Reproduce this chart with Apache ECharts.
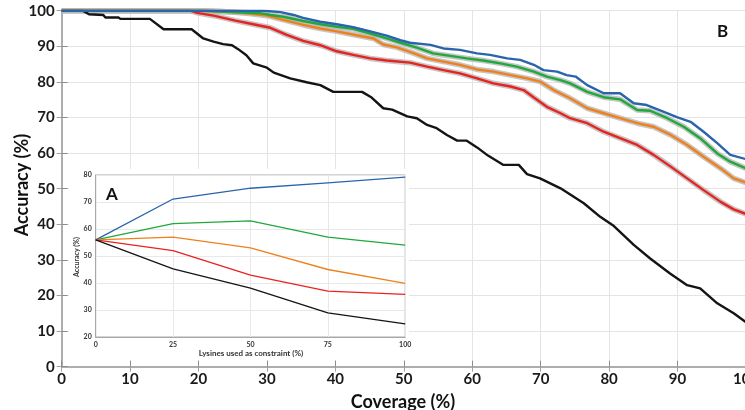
<!DOCTYPE html>
<html><head><meta charset="utf-8">
<script src="https://cdn.jsdelivr.net/npm/echarts@6/dist/echarts.min.js"></script>
<style>html,body{margin:0;padding:0;background:#fff}#c{width:745px;height:410px}</style>
</head><body><div id="c"></div>
<script>
// ---- Panel B (main): [coverage %, accuracy %]
const curveBlack = [[0,100],[3.1,100],[4.0,99.0],[6.1,98.8],[6.4,98.1],[8.3,98.1],[8.6,97.7],[12.9,97.7],[14.9,94.8],[19.0,94.8],[20.7,92.2],[22.2,91.3],[23.6,90.6],[24.9,90.3],[25.8,89.2],[27.0,87.5],[28.0,85.2],[30.0,84.0],[31.0,82.6],[33.4,81.0],[35.8,79.9],[37.8,79.1],[39.7,77.2],[43.9,77.2],[45.3,75.6],[47.0,72.6],[48.3,72.2],[50.5,70.3],[51.9,69.8],[53.4,67.9],[54.8,67.0],[56.3,65.1],[57.8,63.5],[59.2,63.5],[60.7,61.6],[62.3,59.3],[64.5,56.7],[66.8,56.7],[68.0,54.1],[69.9,52.9],[72.9,50.1],[76.3,45.9],[78.7,42.1],[80.7,39.5],[83.6,34.2],[86.0,30.4],[88.9,26.2],[91.4,22.9],[93.3,22.0],[95.8,17.8],[98.2,15.0],[100,12.5]];
const curveRed = [[0,100],[18.8,100],[19.8,99.4],[22.2,98.6],[25.4,97.2],[28.0,96.2],[30.5,95.2],[32.9,93.2],[35.3,91.5],[37.8,90.3],[40.2,88.6],[42.6,87.6],[45.1,86.6],[47.5,86.0],[50.9,85.4],[53.4,84.3],[55.8,83.3],[58.2,82.4],[60.7,81.0],[63.1,79.6],[65.6,78.7],[67.5,77.7],[69.0,75.6],[70.9,73.0],[72.9,71.2],[74.3,69.8],[76.8,68.4],[79.2,66.0],[81.6,64.2],[84.1,62.3],[86.5,59.5],[89.0,56.2],[91.4,52.9],[93.8,49.6],[96.3,46.3],[98.2,44.2],[100,42.9]];
const curveOrange = [[0,100],[21,100],[24.1,99.7],[27.1,99.3],[30.0,98.6],[32.4,97.4],[35.3,96.0],[37.8,95.0],[40.2,94.2],[43.1,93.1],[45.6,92.2],[47.0,90.5],[49.0,89.7],[51.4,88.1],[53.4,86.6],[55.8,85.7],[58.2,84.8],[60.7,83.5],[63.1,82.9],[65.6,81.9],[68.0,81.0],[69.9,80.1],[71.9,77.7],[74.3,75.4],[76.8,72.6],[79.2,71.2],[81.6,69.8],[84.1,68.4],[86.5,67.4],[89.0,65.1],[91.4,62.3],[93.8,59.0],[96.3,55.7],[98.2,52.9],[100,51.7]];
const curveGreen = [[0,100],[20.5,100],[24,99.7],[29.0,99.3],[30.5,98.8],[32.4,98.3],[35.3,97.1],[37.8,96.2],[40.2,95.5],[42.6,94.9],[45.1,93.6],[47.5,92.2],[49.5,91.0],[51.9,89.6],[54.3,88.0],[56.8,87.3],[59.2,86.6],[61.6,86.0],[64.1,85.2],[66.5,84.3],[69.0,82.9],[70.9,81.5],[72.9,80.5],[74.3,79.6],[76.8,77.2],[79.2,75.7],[81.6,75.1],[84.1,72.1],[86.0,71.9],[88.5,69.8],[90.9,67.4],[93.3,64.2],[95.8,59.9],[97.7,57.6],[100,55.7]];
const curveBlue = [[0,100],[29.5,100],[32,99.6],[33.9,98.8],[35.3,98.0],[37.8,96.9],[40.2,96.2],[42.6,95.4],[45.1,94.2],[47.5,93.0],[49.5,91.7],[50.9,91.0],[53.9,90.4],[55.8,89.4],[58.2,89.0],[60.7,88.0],[62.6,87.6],[65.1,86.6],[67.0,86.2],[69.0,84.8],[70.4,83.3],[72.4,82.9],[73.8,81.9],[75.1,81.5],[76.8,79.1],[79.2,76.8],[81.6,76.8],[83.6,74.0],[85.5,73.5],[88.0,71.6],[89.9,70.1],[91.9,68.8],[93.8,66.0],[95.8,62.8],[97.7,59.5],[100,58.3]];

// ---- Panel A (inset)
const lysines = [0, 25, 50, 75, 100];
const insetBlue   = [56, 71.1, 75.1, 77.1, 79.2];
const insetGreen  = [56, 62.0, 63.0, 57.0, 54.0];
const insetOrange = [56, 57.0, 53.0, 45.0, 39.9];
const insetRed    = [56, 52.0, 42.9, 37.0, 35.8];
const insetBlack  = [56, 45.2, 38.1, 28.9, 24.9];

// ---- Texts
const mainXName = 'Coverage (%)';
const mainYName = 'Accuracy (%)';
const insetXName = 'Lysines used as constraint (%)';
const insetYName = 'Accuracy (%)';

const C = {blue:'#2a64ad', green:'#1fa83c', orange:'#f0801c', red:'#e8231f', black:'#141414'};
const FONT = 'Lato';

function pair(xs, ys){ return xs.map((x,i)=>[x, ys[i]]); }

const mainCurves = [
  {name:'Black', data:curveBlack, color:C.black, halo:false},
  {name:'Red', data:curveRed, color:C.red, halo:true},
  {name:'Orange', data:curveOrange, color:C.orange, halo:true},
  {name:'Green', data:curveGreen, color:C.green, halo:true},
  {name:'Blue', data:curveBlue, color:C.blue, halo:false}
];
const insetCurves = [
  {name:'Blue A', ys:insetBlue, color:C.blue},
  {name:'Green A', ys:insetGreen, color:C.green},
  {name:'Orange A', ys:insetOrange, color:C.orange},
  {name:'Red A', ys:insetRed, color:C.red},
  {name:'Black A', ys:insetBlack, color:C.black}
];

const series = [];
mainCurves.forEach(c => {
  if (c.halo) series.push({type:'line', xAxisIndex:0, yAxisIndex:0, data:c.data, showSymbol:false, silent:true, z:2,
    lineStyle:{color:'#b8b8b8', width:5.5, opacity:0.8}});
  series.push({type:'line', name:c.name, xAxisIndex:0, yAxisIndex:0, data:c.data, showSymbol:false, z:3,
    lineStyle:{color:c.color, width:2.4}});
});
insetCurves.forEach(c => {
  series.push({type:'line', name:c.name, xAxisIndex:2, yAxisIndex:2, data:pair(lysines, c.ys), showSymbol:false, z:6,
    lineStyle:{color:c.color, width:1.3}});
});

const chart = echarts.init(document.getElementById('c'), null, {renderer:'canvas'});
chart.setOption({
  animation:false,
  backgroundColor:'#fff',
  textStyle:{fontFamily:FONT},
  grid:[
    {left:61.6, top:10.7, right:-1, bottom:43.3, containLabel:false, outerBoundsMode:'none'},
    {left:95.7, top:175, width:309.5, height:162, containLabel:false, outerBoundsMode:'none',
      show:true, borderColor:'#a8a8a8', borderWidth:1, backgroundColor:'#fff', z:4}
  ],
  graphic:[
    {type:'rect', z:1, shape:{x:69, y:169, width:340, height:191}, style:{fill:'#fff'}, silent:true},
    {type:'text', z:10, left:717, top:23, style:{text:'B', font:'bold 17px '+FONT, fill:'#111'}},
    {type:'text', z:10, left:106, top:186, style:{text:'A', font:'bold 17px '+FONT, fill:'#111'}},
    {type:'text', z:10, x:403, y:402, style:{text:mainXName, font:'bold 18px '+FONT, fill:'#111', align:'center', verticalAlign:'middle'}},
    {type:'text', z:10, x:22, y:185, rotation:Math.PI/2, style:{text:mainYName, font:'bold 18px '+FONT, fill:'#111', align:'center', verticalAlign:'middle'}},
    {type:'text', z:10, x:251, y:353, style:{text:insetXName, font:'bold 8px '+FONT, fill:'#333', align:'center', verticalAlign:'middle'}},
    {type:'text', z:10, x:77, y:257, rotation:Math.PI/2, style:{text:insetYName, font:'bold 7px '+FONT, fill:'#333', align:'center', verticalAlign:'middle'}}
  ],
  xAxis:[
    {type:'value', gridIndex:0, min:0, max:100, interval:10, position:'bottom',
      axisLine:{show:true, lineStyle:{color:'#8c8c8c', width:1.5}},
      axisTick:{show:true, inside:true, length:6, lineStyle:{color:'#8c8c8c'}},
      axisLabel:{fontSize:15, fontWeight:'bold', color:'#1a1a1a', margin:5, fontFamily:FONT},
      splitLine:{show:true, lineStyle:{color:'#e4e4e4', width:1}}},
    {type:'value', gridIndex:0, min:0, max:100, interval:10, position:'top',
      axisLine:{show:true, lineStyle:{color:'#b0b0b0', width:1.5}},
      axisTick:{show:true, inside:true, length:5, lineStyle:{color:'#a0a0a0'}},
      axisLabel:{show:false}, splitLine:{show:false}},
    {type:'value', gridIndex:1, min:0, max:100, interval:25, z:5,
      axisLine:{show:true, lineStyle:{color:'#a8a8a8'}},
      axisTick:{show:false},
      axisLabel:{fontSize:7, fontWeight:'bold', color:'#333', margin:4, fontFamily:FONT},
      splitLine:{show:true, lineStyle:{color:'#e8e8e8'}}}
  ],
  yAxis:[
    {type:'value', gridIndex:0, min:0, max:100, interval:10, position:'left',
      axisLine:{show:true, lineStyle:{color:'#8c8c8c', width:1.5}},
      axisTick:{show:true, inside:true, length:6, lineStyle:{color:'#8c8c8c'}},
      axisLabel:{fontSize:15, fontWeight:'bold', color:'#1a1a1a', margin:7, fontFamily:FONT},
      splitLine:{show:true, lineStyle:{color:'#e4e4e4', width:1}}},
    {type:'value', gridIndex:0, min:0, max:100, interval:10, position:'right',
      axisLine:{show:true, lineStyle:{color:'#b0b0b0', width:1.5}},
      axisTick:{show:true, inside:true, length:5, lineStyle:{color:'#a0a0a0'}},
      axisLabel:{show:false}, splitLine:{show:false}},
    {type:'value', gridIndex:1, min:20, max:80, interval:10, z:5,
      axisLine:{show:true, lineStyle:{color:'#a8a8a8'}},
      axisTick:{show:false},
      axisLabel:{fontSize:7, fontWeight:'bold', color:'#333', margin:4, fontFamily:FONT},
      splitLine:{show:true, lineStyle:{color:'#e8e8e8'}}}
  ],
  series: series
});
</script></body></html>
